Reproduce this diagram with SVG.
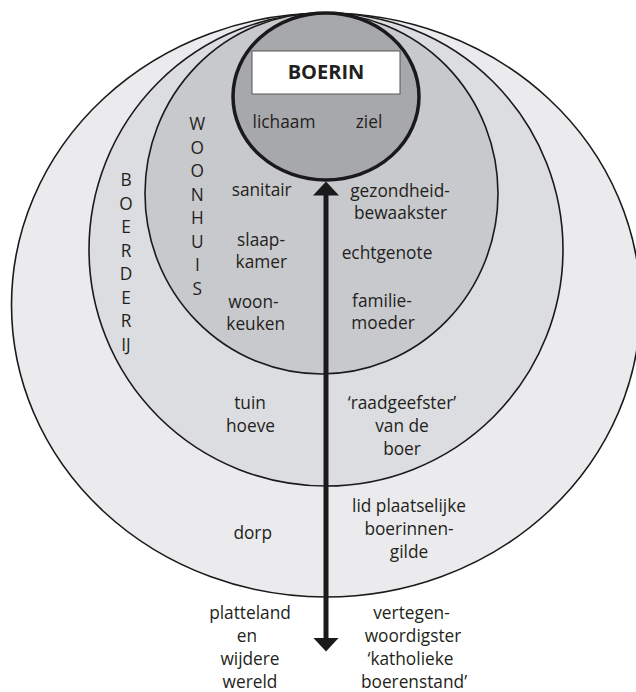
<svg xmlns="http://www.w3.org/2000/svg" width="636" height="692" viewBox="0 0 636 692">
<defs>
<style>
text{font-family:"Open Sans","Noto Sans","Liberation Sans",sans-serif;font-size:17.3px;fill:#231f20;text-anchor:middle}
.ring{stroke:#1a1a1a;stroke-width:1.6}
.cap{font-size:17.3px}
.title{font-weight:bold;font-size:20px}
</style>
<marker id="head" viewBox="0 0 14 26" refX="0.5" refY="13" markerWidth="14" markerHeight="26" markerUnits="userSpaceOnUse" orient="auto-start-reverse">
<path d="M0,0 L14,13 L0,26 Z" fill="#1a1a1a"/>
</marker>
</defs>
<rect width="636" height="692" fill="#ffffff"/>
<g id="wereld">
<ellipse class="ring" cx="326" cy="305" rx="314.5" ry="292" fill="#ebebed"/>
<text x="252.7" y="539">dorp</text>
<text x="409" y="512">lid plaatselijke</text>
<text x="409" y="535">boerinnen-</text>
<text x="409" y="558">gilde</text>
<text x="250" y="618.5">platteland</text>
<text x="247" y="641.5">en</text>
<text x="250" y="664.5">wijdere</text>
<text x="250" y="687.5">wereld</text>
<text x="411.5" y="618.5">vertegen-</text>
<text x="413" y="641.5">woordigster</text>
<text x="410.5" y="664.5">‘katholieke</text>
<text x="414" y="687.5">boerenstand’</text>
</g>
<g id="boerderij">
<ellipse class="ring" cx="326" cy="249.5" rx="237" ry="236.5" fill="#dcdde0"/>
<g class="cap">
<text x="126" y="186">B</text>
<text x="126" y="210">O</text>
<text x="126" y="233">E</text>
<text x="126" y="257">R</text>
<text x="126" y="280">D</text>
<text x="126" y="304">E</text>
<text x="126" y="327">R</text>
<text x="126" y="351">IJ</text>
</g>
<text x="250" y="409">tuin</text>
<text x="250.5" y="432">hoeve</text>
<text x="402" y="409">‘raadgeefster’</text>
<text x="402" y="432">van de</text>
<text x="402" y="455">boer</text>
</g>
<g id="woonhuis">
<ellipse class="ring" cx="321.5" cy="193.5" rx="176.5" ry="180.5" fill="#c8c9cc"/>
<g class="cap">
<text x="197.3" y="130">W</text>
<text x="197.3" y="154">O</text>
<text x="197.3" y="177">O</text>
<text x="197.3" y="201">N</text>
<text x="197.3" y="224">H</text>
<text x="197.3" y="248">U</text>
<text x="197.3" y="271">I</text>
<text x="197.3" y="295">S</text>
</g>
<text x="261.7" y="196">sanitair</text>
<text x="261" y="246">slaap-</text>
<text x="261.3" y="268">kamer</text>
<text x="253.5" y="308">woon-</text>
<text x="255.7" y="330">keuken</text>
<text x="400" y="197">gezondheid-</text>
<text x="400.5" y="219">bewaakster</text>
<text x="387" y="259">echtgenote</text>
<text x="382" y="307">familie-</text>
<text x="383" y="329">moeder</text>
</g>
<g id="boerin">
<ellipse cx="326" cy="96.5" rx="93" ry="83.5" fill="#a7a8ab" stroke="#1a1a1a" stroke-width="3.5"/>
<rect x="252" y="51" width="148" height="43" fill="#ffffff" stroke="#555555" stroke-width="1"/>
<text class="title" x="326" y="79">BOERIN</text>
<text x="284" y="128">lichaam</text>
<text x="369" y="128">ziel</text>
</g>
<g id="connectors">
<line x1="326" y1="195" x2="326" y2="638" stroke="#1a1a1a" stroke-width="5" marker-start="url(#head)" marker-end="url(#head)"/>
</g>
</svg>
